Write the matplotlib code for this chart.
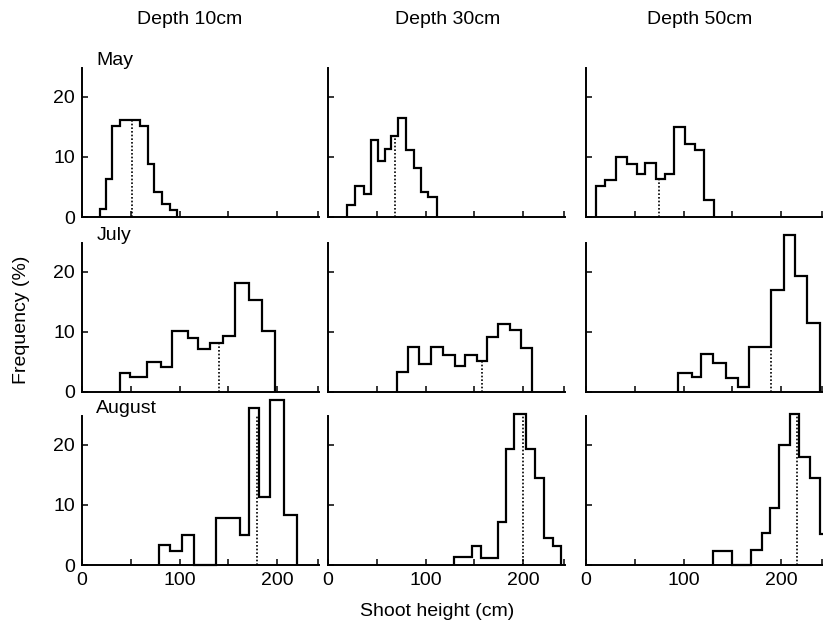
import numpy as np
import matplotlib.pyplot as plt

plt.rcParams["font.family"] = ["Liberation Sans", "DejaVu Sans"]

depths = ["Depth 10cm", "Depth 30cm", "Depth 50cm"]
months = ["May", "July", "August"]

# -------------------------------------------
# bin edges (cm), frequencies (%) and medians

may_10_edges = [18, 25, 31, 39, 59.5, 68, 74, 82, 90, 97]
may_10_freq = [1.4, 6.4, 15.1, 16.2, 15.1, 8.9, 4.1, 2.2, 1.1]
may_10_median = 51.5

may_30_edges = [19.5, 28, 36.5, 44, 51, 58.7, 65, 71.7, 80, 88.4, 95.6, 103, 111.6]
may_30_freq = [2.0, 5.1, 3.8, 12.8, 9.3, 11.3, 13.5, 16.5, 11.2, 8.1, 4.1, 3.4]
may_30_median = 68.3

may_50_edges = [10, 19.2, 30.6, 41.6, 51.9, 60.5, 71.8, 81, 90.7, 101, 111.3, 120.6, 131.6]
may_50_freq = [5.1, 6.1, 10.0, 8.9, 7.1, 9.0, 6.3, 7.1, 15.0, 12.1, 11.2, 2.9]
may_50_median = 75.3

jul_10_edges = [39.3, 49.7, 66.2, 80.7, 92, 108.6, 119, 131, 144.8, 156.9, 171.4, 184.5, 198.3]
jul_10_freq = [3.1, 2.5, 5.0, 4.2, 10.2, 9.0, 7.2, 8.1, 9.3, 18.2, 15.3, 10.2]
jul_10_median = 140.3

jul_30_edges = [70.9, 82.2, 93.8, 105.1, 118.2, 130.1, 140.4, 152.4, 163.4, 174.7, 186.6, 198.3, 209.6]
jul_30_freq = [3.3, 7.5, 4.6, 7.5, 6.2, 4.4, 6.2, 5.2, 9.2, 11.4, 10.3, 7.3]
jul_30_median = 158.2

jul_50_edges = [94.1, 108.3, 117.6, 130.3, 143.4, 156.2, 167.6, 190, 202.8, 214.1, 226.9, 240]
jul_50_freq = [3.1, 2.5, 6.4, 4.8, 2.3, 0.9, 7.5, 16.9, 26.1, 19.3, 11.5]
jul_50_median = 189.5

aug_10_edges = [79.3, 90.7, 102.8, 114.8, 137.2, 162, 171.4, 181, 193.1, 206.9, 220]
aug_10_freq = [3.3, 2.4, 5.0, 0, 7.9, 5.0, 26.1, 11.4, 27.4, 8.3]
aug_10_median = 179.3

aug_30_edges = [129.5, 147.3, 156.8, 174, 182.5, 191.1, 203.1, 212.3, 221.6, 230.5, 238.7]
aug_30_freq = [1.4, 3.2, 1.1, 7.1, 19.3, 25.1, 19.3, 14.4, 4.5, 3.2]
aug_30_median = 200.3

aug_50_edges = [129.8, 149.8, 169.6, 180.6, 188.6, 197.9, 208.7, 218.7, 229.4, 239.8, 246]
aug_50_freq = [2.3, 0, 2.5, 5.3, 9.5, 19.9, 25.1, 18.0, 14.4, 5.2]
aug_50_median = 216.3

panels = [
    [(may_10_edges, may_10_freq, may_10_median),
     (may_30_edges, may_30_freq, may_30_median),
     (may_50_edges, may_50_freq, may_50_median)],
    [(jul_10_edges, jul_10_freq, jul_10_median),
     (jul_30_edges, jul_30_freq, jul_30_median),
     (jul_50_edges, jul_50_freq, jul_50_median)],
    [(aug_10_edges, aug_10_freq, aug_10_median),
     (aug_30_edges, aug_30_freq, aug_30_median),
     (aug_50_edges, aug_50_freq, aug_50_median)],
]

# -------------------------------------------
################ LAYOUT ################

W, H = 823, 627
fig = plt.figure(figsize=(W / 100, H / 100), dpi=100, facecolor="white")

col_left = [82, 328, 586]
ax_w = 237
row_bottom = [217, 392, 565]
ax_h = 149
fs = 14

for r in range(3):
    for c in range(3):
        ax = fig.add_axes([col_left[c] / W, 1 - row_bottom[r] / H, ax_w / W, ax_h / H])
        edges, freq, med = panels[r][c]
        edges = np.array(edges)
        freq = np.array(freq)

        ax.stairs(freq, edges, baseline=0, color="k", lw=1.6, clip_on=False)

        # median as dotted line up to the bar it falls in
        i = np.searchsorted(edges, med) - 1
        ax.vlines(med, 0, freq[i], colors="k", linestyles=(0, (1, 1.2)), lw=1.2)

        ax.set_xlim(0, 243)
        ax.set_ylim(0, 24.8)
        ax.spines["top"].set_visible(False)
        ax.spines["right"].set_visible(False)
        ax.spines["left"].set_linewidth(1.4)
        ax.spines["bottom"].set_linewidth(1.4)

        ax.set_xticks([0, 100, 200])
        ax.set_xticks([50, 150, 242], minor=True)
        ax.set_yticks([0, 10, 20])
        ax.tick_params(which="both", direction="in", length=4, width=1.1,
                       labelsize=fs, pad=5)

        if c != 0:
            ax.tick_params(axis="y", labelleft=False)
        if r != 2:
            ax.tick_params(axis="x", labelbottom=False)

        if c == 0:
            ax.text(0.06, 1.05, months[r], transform=ax.transAxes,
                    fontsize=fs, va="center", ha="left")

title_x = [190, 448, 700]
for c in range(3):
    fig.text(title_x[c] / W, 1 - 20 / H, depths[c], fontsize=fs,
             va="center", ha="center")

fig.text(22 / W, 1 - 320 / H, "Frequency (%)", rotation=90,
         fontsize=fs, va="center", ha="center")
fig.text(437 / W, 1 - 612 / H, "Shoot height (cm)",
         fontsize=fs, va="center", ha="center")

plt.savefig("out.png", dpi=100, facecolor="white")
